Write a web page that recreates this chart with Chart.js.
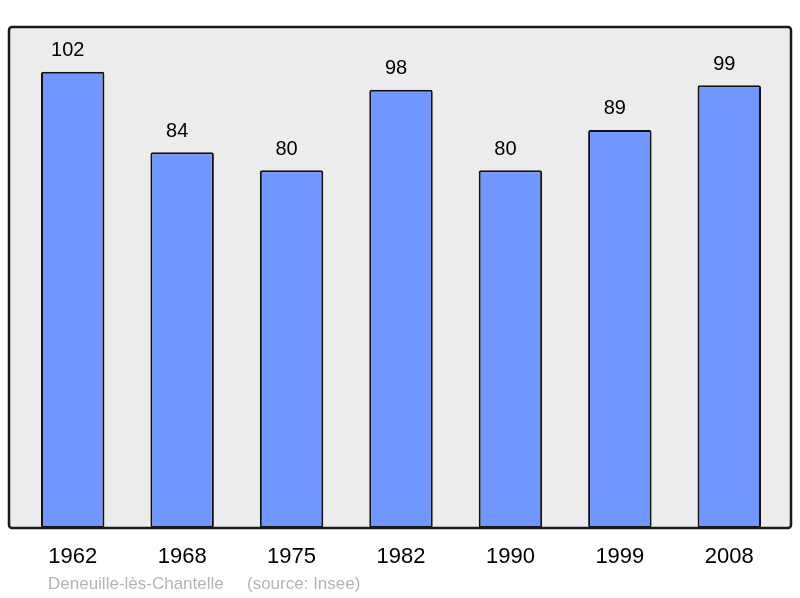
<!DOCTYPE html>
<html>
<head>
<meta charset="utf-8">
<script src="https://cdn.jsdelivr.net/npm/chart.js@4"></script>
<style>
  html, body { margin: 0; padding: 0; background: #fff; }
  #wrap { width: 800px; height: 598px; }
</style>
</head>
<body>
<div id="wrap"><canvas id="popChart"></canvas></div>
<script>
const years = ['1962', '1968', '1975', '1982', '1990', '1999', '2008'];
const population = [102, 84, 80, 98, 80, 89, 99];
const yMax = 112;
const placeName = 'Deneuille-lès-Chantelle';
const sourceNote = '(source: Insee)';

// grey panel behind the bars, border drawn over the bar feet
const framePlugin = {
    id: 'frame',
    beforeDatasetsDraw(chart) {
        const { ctx, chartArea } = chart;
        ctx.save();
        ctx.beginPath();
        ctx.roundRect(chartArea.left - 9, chartArea.top, chartArea.right - chartArea.left + 16, chartArea.bottom - chartArea.top, 3);
        ctx.fillStyle = '#ececec';
        ctx.fill();
        ctx.restore();
    },
    afterDatasetsDraw(chart) {
        const { ctx, chartArea } = chart;
        ctx.save();
        ctx.beginPath();
        ctx.roundRect(chartArea.left - 9, chartArea.top, chartArea.right - chartArea.left + 16, chartArea.bottom - chartArea.top, 3);
        ctx.lineWidth = 2.5;
        ctx.strokeStyle = '#1a1a1a';
        ctx.stroke();

        // value labels above each bar
        const meta = chart.getDatasetMeta(0);
        ctx.fillStyle = '#000';
        ctx.font = '20px "Liberation Sans", Arial, sans-serif';
        ctx.textAlign = 'center';
        ctx.textBaseline = 'middle';
        meta.data.forEach((bar, i) => {
            ctx.fillText(String(population[i]), bar.x - 5, bar.y - 21);
        });

        ctx.fillStyle = '#b4b4b4';
        ctx.font = '17px "Liberation Sans", Arial, sans-serif';
        ctx.textAlign = 'left';
        ctx.fillText(placeName, 48, 584);
        ctx.fillText(sourceNote, 247, 584);
        ctx.restore();
    }
};

new Chart(document.getElementById('popChart'), {
    type: 'bar',
    data: {
        labels: years,
        datasets: [{
            data: population,
            backgroundColor: '#7096ff',
            borderColor: '#111',
            borderWidth: 2,
            borderRadius: 2,
            borderSkipped: false,
            barPercentage: 0.58,
            categoryPercentage: 1
        }]
    },
    options: {
        responsive: true,
        maintainAspectRatio: false,
        animation: false,
        layout: { padding: { left: 18, right: 16, top: 27, bottom: 0 } },
        plugins: {
            legend: { display: false },
            tooltip: { enabled: false }
        },
        scales: {
            x: {
                grid: { display: false, drawTicks: false },
                border: { display: false },
                ticks: {
                    color: '#000',
                    font: { family: '"Liberation Sans", Arial, sans-serif', size: 22 },
                    padding: 16
                },
                afterFit(scale) { scale.height = 70; }
            },
            y: {
                display: false,
                min: 0,
                max: yMax
            }
        }
    },
    plugins: [framePlugin]
});
</script>
</body>
</html>
